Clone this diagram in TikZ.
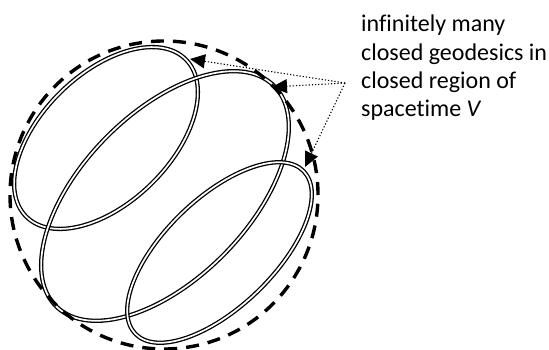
\documentclass[tikz,border=0pt]{standalone}
\usepackage{fontspec}
\setmainfont{Carlito}[Ligatures=NoCommon]
\usetikzlibrary{arrows.meta}
\begin{document}
\begin{tikzpicture}[x=1pt,y=-1pt,
  geod/.style={draw=black, double=white, line width=1.3pt, double distance=1.7pt},
  region/.style={draw=black, line width=3.4pt, dash pattern=on 13pt off 9pt},
  pointer/.style={draw=black, line width=1.1pt, dash pattern=on 1.2pt off 2pt, -{Triangle[length=15pt,width=14pt]}},
  lbl/.style={font=\fontsize{24}{28.4}\selectfont, align=left, inner sep=0pt, anchor=base west}]
\useasboundingbox (0,0) rectangle (549,350);
\coordinate (e1) at (106,138);
\coordinate (e2) at (165,196);
\coordinate (e3) at (219.5,252.5);
\coordinate (rc) at (164,195);
\draw[geod, rotate around={44.4:(e1)}] (e1) ellipse [x radius=112pt, y radius=64.5pt];
\draw[geod, rotate around={45.4:(e2)}] (e2) ellipse [x radius=155pt, y radius=83pt];
\draw[geod, rotate around={44:(e3)}] (e3) ellipse [x radius=117pt, y radius=54.5pt];
\draw[region] (rc) circle [radius=154pt];
\node[lbl] (txt) at (361,117) {infinitely many\\closed geodesics in\\closed region of\\spacetime \textit{V}};
\coordinate (hub) at (345,83);
\coordinate (t1) at (190,59);
\coordinate (t2) at (272,87);
\coordinate (t3) at (305,167);
\draw[pointer] (hub) -- (t1);
\draw[pointer] (hub) -- (t2);
\draw[pointer] (hub) -- (t3);
\end{tikzpicture}
\end{document}
